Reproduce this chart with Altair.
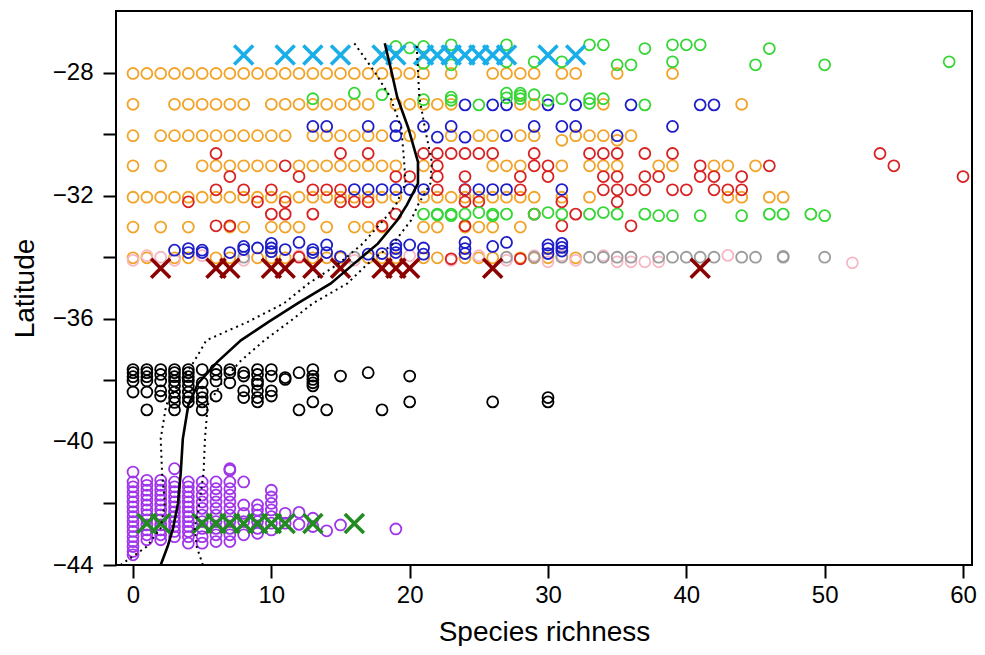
import altair as alt
import pandas as pd

# ---------------- data ----------------
# orange circles, one list of richness values per latitude row
orange_r28 = list(range(0, 22)) + [23, 26, 27, 28, 29, 31, 32, 35, 39]
orange_r29 = [0, 3, 4, 5, 6, 7, 8, 10, 11, 12, 13, 14, 15, 16, 17, 19, 20, 21, 22, 23, 28, 29, 34, 44]
orange_r30 = [0, 2, 3, 4, 5, 6, 7, 8, 9, 10, 11, 13, 14, 15, 16, 17, 18, 20, 23, 25, 26, 28, 29, 32, 33, 34, 36]
orange_r30b = [31, 35]
orange_r31 = [0, 2, 5, 6, 7, 8, 9, 10, 12, 13, 14, 15, 16, 17, 18, 19, 21, 26, 27, 28, 31, 33, 34, 35, 38, 39, 42, 43, 45]
orange_r32 = list(range(0, 20)) + [21, 22, 23, 24, 25, 26, 27, 28, 29, 31, 33, 43, 44, 46, 47]
orange_r33 = [0, 2, 4, 7, 8, 10, 11, 12, 14, 16, 17, 18, 21, 22, 24, 25, 26, 28]
orange_r34 = [0, 1, 3, 4, 6, 7, 9, 10, 11, 13, 14, 15, 17, 18, 19, 21, 22, 24, 25, 26, 28, 29, 30, 32]
orange_rows = [(-28.03, orange_r28), (-29.03, orange_r29), (-30.05, orange_r30), (-30.2, orange_r30b),
               (-31.03, orange_r31), (-32.05, orange_r32), (-33.02, orange_r33), (-34.02, orange_r34)]

pink_x = [0, 1, 2, 3, 5, 8, 12, 16, 20, 23, 25, 27, 29, 30, 31, 32, 34, 35, 36, 37, 38, 43, 52]
pink_lat = [-34.1, -33.95, -34.0, -34.1, -33.95, -34.1, -33.95, -34.1, -33.95, -34.1, -33.95, -34.1,
            -33.95, -34.15, -33.95, -34.1, -33.95, -34.15, -34.15, -34.15, -34.15, -33.94, -34.18]

gray_x = [8, 16, 27, 29, 31, 33, 34, 35, 36, 38, 39, 40, 41, 42, 44, 45, 47, 47, 50]
gray_lat = [-34.0, -34.0, -34.0, -34.0, -34.0, -34.0, -34.0, -34.0, -34.0, -34.0, -34.0, -34.0,
            -34.0, -34.0, -34.0, -34.0, -34.0, -33.97, -34.0]

blue_x = [24, 26, 27, 30, 32, 36, 41, 42,
          13, 14, 17, 19, 21, 23, 29, 31, 32, 39,
          19, 22, 24, 27, 35,
          16, 17, 18, 19, 20, 21, 24, 25, 26, 27, 31,
          3, 4, 4, 5, 5, 7, 8, 8, 9, 10, 10, 10, 11, 12, 13, 13, 14, 14, 15, 17, 18,
          19, 19, 19, 20, 21, 21, 24, 24, 24, 26, 27, 30, 30, 30, 31, 31, 31]
blue_lat = [-29.05, -29.05, -29.05, -29.05, -29.05, -29.05, -29.05, -29.05,
            -29.75, -29.75, -29.75, -29.75, -29.75, -29.75, -29.75, -29.75, -29.75, -29.75,
            -30.05, -30.1, -30.1, -30.05, -30.05,
            -31.8, -31.8, -31.8, -31.8, -31.8, -31.8, -31.8, -31.8, -31.8, -31.8, -31.8,
            -33.77, -33.72, -33.85, -33.77, -33.85, -33.85, -33.65, -33.75, -33.7, -33.55, -33.7,
            -33.82, -33.75, -33.52, -33.75, -33.85, -33.6, -33.85, -33.98, -33.9, -33.88,
            -33.6, -33.72, -33.85, -33.6, -33.7, -33.9, -33.52, -33.72, -33.88, -33.65, -33.52,
            -33.6, -33.72, -33.88, -33.55, -33.68, -33.8]

red_x = [6, 15, 17, 21, 22, 23, 24, 25, 26, 29, 33, 34, 35, 37, 39, 54,
         11, 22, 29, 30, 41, 46, 55,
         7, 12, 19, 20, 22, 24, 28, 30, 34, 35, 37, 38, 41, 42, 44, 60,
         6, 8, 10, 13, 14, 15, 22, 24, 28, 34, 35, 36, 37, 39, 40, 42, 43, 44,
         4, 9, 11, 15, 16, 17, 24, 25, 31, 35,
         10, 11, 13, 19, 29, 32,
         6, 7, 18, 24, 31, 36,
         12, 23, 28]
red_lat = [-30.63] * 16 + [-31.03] * 7 + [-31.38] * 16 + [-31.81] * 18 + [-32.2] * 10 \
    + [-32.6] * 6 + [-32.98] * 6 + [-34.0, -34.05, -34.05]

green_x = [19, 20, 21, 21, 23, 23, 27, 27, 29, 31, 33, 34, 35, 36, 37, 39, 39, 40, 41, 45, 46, 50, 59,
           13, 16, 18, 21, 23, 23, 27, 27, 28, 28, 28, 29, 30, 31, 33, 33, 34, 37, 25,
           21, 22, 22, 23, 23, 24, 25, 26, 26, 27, 29, 30, 31, 33, 34, 35, 37, 38, 39, 41, 44,
           46, 47, 49, 50]
green_lat = [-27.15, -27.2, -27.15, -27.7, -27.1, -27.75, -27.1, -27.65, -27.65, -27.65, -27.1, -27.1,
             -27.75, -27.75, -27.22, -27.1, -27.65, -27.1, -27.1, -27.75, -27.22, -27.75, -27.65,
             -28.85, -28.67, -28.72, -28.88, -28.8, -28.9, -28.67, -28.82, -28.67, -28.75, -28.85,
             -28.72, -28.9, -28.85, -28.85, -29.0, -28.85, -29.05, -29.05,
             -32.6, -32.6, -32.63, -32.6, -32.65, -32.6, -32.55, -32.6, -32.65, -32.6, -32.6, -32.55,
             -32.6, -32.6, -32.55, -32.6, -32.6, -32.65, -32.65, -32.65, -32.65, -32.6, -32.6,
             -32.6, -32.65]

black_cols = {
    0: [-37.65, -37.75, -37.88, -38.02, -38.38],
    1: [-37.65, -37.75, -37.88, -38.02, -38.38, -38.96],
    2: [-37.65, -37.81, -38.02, -38.34, -38.51],
    3: [-37.65, -37.75, -37.88, -38.02, -38.18, -38.38, -38.56, -38.72, -38.96],
    4: [-37.65, -37.75, -37.88, -38.02, -38.18, -38.38, -38.56, -38.70],
    5: [-37.65, -38.08, -38.38, -38.56, -38.70, -38.96],
    6: [-37.65, -37.81, -38.02, -38.51],
    7: [-37.65, -37.75, -38.08],
    8: [-37.75, -37.86, -38.34, -38.56],
    9: [-37.65, -37.81, -38.02, -38.13, -38.34, -38.56, -38.70],
    10: [-37.65, -37.86, -38.34, -38.51],
    11: [-37.91, -37.97],
    12: [-37.75, -38.96],
    13: [-37.65, -37.86, -37.97, -38.08, -38.18, -38.70],
    14: [-38.96],
    15: [-37.86],
    17: [-37.75],
    18: [-38.96],
    20: [-37.86, -38.70],
    26: [-38.70],
    30: [-38.56, -38.70],
}

purple_cols = {
    0: [-40.98, -41.30, -41.46, -41.62, -41.79, -41.95, -42.11, -42.27, -42.43, -42.59, -42.75,
        -42.91, -43.08, -43.24, -43.40, -43.56, -43.67],
    1: [-41.25, -41.41, -41.57, -41.73, -41.89, -42.05, -42.21, -42.37, -42.53, -42.70, -42.86,
        -43.02, -43.18],
    2: [-41.25, -41.41, -41.57, -41.73, -41.89, -42.05, -42.21, -42.37, -42.53, -42.70, -42.86,
        -43.02, -43.18],
    3: [-40.87, -41.30, -41.46, -41.62, -41.79, -41.95, -42.11, -42.27, -42.43, -42.59, -42.75,
        -42.91, -43.08],
    4: [-41.30, -41.46, -41.62, -41.79, -41.95, -42.11, -42.27, -42.43, -42.59, -42.75, -42.91,
        -43.08, -43.29],
    5: [-41.30, -41.52, -41.73, -41.95, -42.16, -42.38, -42.59, -42.81, -43.08, -43.29],
    6: [-41.30, -41.52, -41.73, -41.95, -42.16, -42.38, -42.59, -42.81, -43.02, -43.24],
    7: [-40.87, -40.92, -41.30, -41.52, -41.73, -41.95, -42.16, -42.38, -42.59, -42.81, -43.02, -43.24],
    8: [-41.30, -42.05, -42.32, -42.59, -43.02],
    9: [-42.05, -42.21, -42.38, -42.59, -42.81, -42.97],
    10: [-41.57, -41.79, -42.00, -42.21, -42.43, -42.64, -42.86],
    11: [-42.32, -42.64],
    12: [-42.29, -42.68],
    13: [-42.48, -42.75],
    14: [-42.89],
    15: [-42.70],
    19: [-42.83],
}

cyan_x_marks = [8, 11, 13, 15, 18, 19, 21, 22, 23, 24, 25, 26, 27, 30, 32]
cyan_x_lat = -27.43
darkred_x_marks = [2, 6, 7, 10, 11, 13, 15, 18, 19, 20, 26, 41]
darkred_x_lat = -34.36
fgreen_x_marks = [1, 2, 5, 6, 7, 8, 9, 10, 11, 13, 16]
fgreen_x_lat = -42.65

curve_lat = [-27.05, -28.0, -28.8, -29.8, -30.9, -31.6, -32.3, -32.8, -33.56, -34.2, -34.85, -35.5,
             -36.1, -36.7, -37.4, -38.1, -38.8, -39.9, -41.0, -42.0, -42.8, -43.4, -44.0]
curve_mid = [18.2, 18.7, 19.1, 19.9, 20.6, 20.6, 19.8, 19.1, 17.7, 16.0, 14.3, 11.9,
             9.8, 7.8, 6.1, 4.7, 4.0, 3.6, 3.45, 3.25, 2.9, 2.5, 2.0]
curve_lo = [16.0, 17.5, 18.6, 19.4, 19.6, 19.7, 19.0, 18.1, 16.6, 14.9, 12.7, 10.9,
            8.3, 5.3, 4.4, 3.3, 2.4, 2.0, 2.1, 2.3, 2.0, 1.0, -0.9]
curve_hi = [20.5, 20.6, 20.7, 21.1, 21.6, 21.5, 20.6, 20.1, 18.8, 17.0, 15.5, 13.0,
            11.3, 9.5, 7.7, 6.4, 5.4, 5.2, 5.1, 4.8, 4.45, 4.6, 5.05]

x_ticks = [0, 10, 20, 30, 40, 50, 60]
y_ticks = [-44, -42, -40, -38, -36, -34, -32, -30, -28]

# ---------------- tables ----------------
rows = []
for lat, xs in orange_rows:
    rows += [("orange", x, lat) for x in xs]
rows += [("pink", x, l) for x, l in zip(pink_x, pink_lat)]
rows += [("gray", x, l) for x, l in zip(gray_x, gray_lat)]
rows += [("blue", x, l) for x, l in zip(blue_x, blue_lat)]
rows += [("red", x, l) for x, l in zip(red_x, red_lat)]
rows += [("green", x, l) for x, l in zip(green_x, green_lat)]
for x, lats in black_cols.items():
    rows += [("black", x, l) for l in lats]
for x, lats in purple_cols.items():
    rows += [("purple", x, l) for l in lats]
circles = pd.DataFrame(rows, columns=["grp", "x", "lat"])
circles["i"] = range(len(circles))

xrows = [("cyan", x, cyan_x_lat) for x in cyan_x_marks]
xrows += [("darkred", x, darkred_x_lat) for x in darkred_x_marks]
xrows += [("fgreen", x, fgreen_x_lat) for x in fgreen_x_marks]
crosses = pd.DataFrame(xrows, columns=["grp", "x", "lat"])

mid = pd.DataFrame({"x": curve_mid, "lat": curve_lat})
band = pd.concat([
    pd.DataFrame({"x": curve_lo, "lat": curve_lat, "s": "lo"}),
    pd.DataFrame({"x": curve_hi, "lat": curve_lat, "s": "hi"}),
])

circle_dom = ["orange", "pink", "gray", "blue", "red", "green", "black", "purple"]
circle_rng = ["#f2a328", "#f7b8c4", "#9c9c9c", "#1e1ec8", "#d82222", "#35d635", "#000000", "#a035ea"]
cross_dom = ["cyan", "darkred", "fgreen"]
cross_rng = ["#1aaee8", "#8b0000", "#228b22"]

FONT = "Liberation Sans"
W, H = 856, 554
xs = alt.Scale(domain=[-1.23, 60.65], nice=False, zero=False)
ys = alt.Scale(domain=[-44, -26.0], nice=False, zero=False)

x_axis = alt.Axis(values=x_ticks, title="Species richness", format="d",
                  titleX=W / 2, titleY=67, titleAlign="center", titleBaseline="middle")
y_axis = alt.Axis(values=y_ticks, title="Latitude", format="d",
                  labelExpr="datum.value % 4 == 0 ? datum.label : ''",
                  titleX=-91, titleY=H / 2, titleAngle=-90, titleAlign="center", titleBaseline="middle")


def X():
    return alt.X("x:Q", scale=xs, axis=x_axis)


def Y():
    return alt.Y("lat:Q", scale=ys, axis=y_axis)


XPATH = "M-1,-1L1,1M-1,1L1,-1"

circ_layer = alt.Chart(circles).mark_point(
    shape="circle", filled=False, size=120, strokeWidth=1.8, opacity=1, clip=True
).encode(
    x=X(), y=Y(),
    color=alt.Color("grp:N", scale=alt.Scale(domain=circle_dom, range=circle_rng), legend=None),
    order=alt.Order("i:Q"),
)

cross_layer = alt.Chart(crosses).mark_point(
    shape=XPATH, filled=False, size=360, strokeWidth=3.6, opacity=1, clip=True
).encode(
    x=X(), y=Y(),
    color=alt.Color("grp:N", scale=alt.Scale(domain=cross_dom, range=cross_rng), legend=None),
)

band_layer = alt.Chart(band).mark_line(
    color="black", strokeWidth=2, strokeDash=[2, 4], clip=True
).encode(x=X(), y=Y(), detail="s:N", order=alt.Order("lat:Q"))

mid_layer = alt.Chart(mid).mark_line(
    color="black", strokeWidth=2.6, clip=True
).encode(x=X(), y=Y(), order=alt.Order("lat:Q"))

chart = alt.layer(circ_layer, cross_layer, band_layer, mid_layer).resolve_scale(
    color="independent"
).properties(
    width=W, height=H,
    autosize=alt.AutoSizeParams(type="none"),
    padding={"left": 108, "top": 3, "right": 5, "bottom": 81},
).configure_view(
    stroke="black", strokeWidth=2
).configure_axis(
    grid=False, domain=False,
    tickColor="black", tickWidth=2, tickSize=13,
    labelFont=FONT, labelFontSize=24, labelColor="black",
    titleFont=FONT, titleFontSize=28, titleColor="black", titleFontWeight="normal",
).configure_axisX(labelPadding=5).configure_axisY(labelPadding=10)

chart.save("out.html", embed_options={"renderer": "svg", "actions": False})
